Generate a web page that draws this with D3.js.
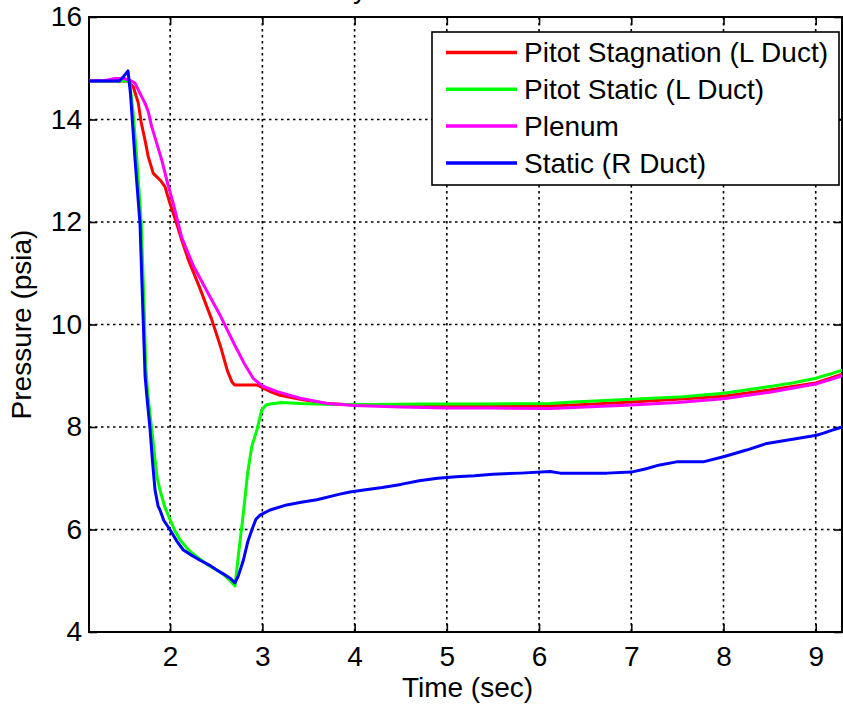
<!DOCTYPE html>
<html>
<head>
<meta charset="utf-8">
<script src="https://cdn.jsdelivr.net/npm/d3@7"></script>
<style>
  html, body { margin: 0; padding: 0; background: #fff; }
  svg { display: block; font-family: "Liberation Sans", Arial, sans-serif; }
</style>
</head>
<body>
<svg id="chart" width="843" height="706"></svg>
<script>
// Pressure traces, time in seconds, pressure in psia
const seriesNames = ["Pitot Stagnation (L Duct)", "Pitot Static (L Duct)", "Plenum", "Static (R Duct)"];
const seriesColors = ["#ff0000", "#00ff00", "#ff00ff", "#0000ff"];

const pitotStagnation = [
  [1.12,14.75],[1.54,14.75],[1.60,14.64],[1.655,14.32],[1.684,13.96],[1.727,13.6],[1.763,13.27],
  [1.817,12.95],[1.89,12.82],[1.944,12.69],[1.998,12.36],[2.07,11.97],[2.125,11.65],[2.2,11.25],
  [2.32,10.72],[2.45,10.1],[2.55,9.55],[2.62,9.1],[2.67,8.88],[2.70,8.82],[2.94,8.82],[3.01,8.76],
  [3.10,8.68],[3.19,8.62],[3.41,8.54],[3.70,8.46],[4.0,8.43],[4.5,8.41],[5.0,8.40],[5.5,8.40],
  [6.12,8.41],[6.5,8.44],[7.0,8.49],[7.5,8.54],[8.0,8.60],[8.5,8.72],[9.0,8.86],[9.29,9.03]
];
const pitotStatic = [
  [1.12,14.75],[1.56,14.75],[1.60,14.1],[1.64,13.2],[1.687,11.97],[1.72,10.2],[1.735,9.2],[1.755,8.7],
  [1.78,8.27],[1.81,7.8],[1.836,7.36],[1.86,7.0],[1.89,6.77],[1.94,6.45],[2.0,6.19],[2.05,5.98],
  [2.107,5.80],[2.2,5.6],[2.288,5.47],[2.4,5.32],[2.505,5.21],[2.58,5.12],[2.65,5.0],[2.703,4.90],
  [2.74,5.5],[2.794,6.32],[2.84,7.1],[2.885,7.62],[2.94,7.94],[2.993,8.33],[3.04,8.43],[3.083,8.45],
  [3.21,8.48],[3.41,8.46],[3.77,8.44],[4.2,8.44],[4.8,8.45],[5.4,8.45],[6.12,8.46],[6.37,8.49],
  [7.0,8.54],[7.56,8.59],[8.0,8.66],[8.43,8.77],[8.75,8.86],[9.0,8.95],[9.15,9.03],[9.29,9.11]
];
const plenum = [
  [1.12,14.75],[1.30,14.76],[1.40,14.8],[1.50,14.8],[1.57,14.76],[1.619,14.71],[1.673,14.51],
  [1.727,14.32],[1.763,14.15],[1.80,13.86],[1.854,13.54],[1.909,13.21],[1.963,12.82],[2.034,12.36],
  [2.125,11.7],[2.25,11.15],[2.40,10.65],[2.55,10.15],[2.70,9.6],[2.80,9.25],[2.90,8.95],[3.0,8.8],
  [3.16,8.69],[3.41,8.56],[3.70,8.46],[4.0,8.42],[4.5,8.39],[5.0,8.37],[5.5,8.37],[6.12,8.36],
  [6.5,8.39],[7.0,8.43],[7.5,8.48],[8.0,8.55],[8.5,8.68],[9.0,8.84],[9.29,9.0]
];
const staticRight = [
  [1.12,14.75],[1.45,14.75],[1.50,14.85],[1.543,14.95],[1.57,14.5],[1.62,13.2],[1.673,11.97],
  [1.70,10.5],[1.728,9.0],[1.755,8.45],[1.78,8.0],[1.81,7.3],[1.836,6.77],[1.87,6.45],[1.89,6.38],
  [1.93,6.18],[2.0,5.99],[2.07,5.78],[2.143,5.6],[2.23,5.5],[2.324,5.40],[2.42,5.31],[2.505,5.21],
  [2.58,5.13],[2.649,5.05],[2.703,4.96],[2.74,5.1],[2.794,5.40],[2.84,5.75],[2.885,5.99],[2.93,6.2],
  [2.975,6.28],[3.083,6.38],[3.264,6.48],[3.42,6.53],[3.59,6.58],[3.84,6.69],[3.95,6.73],[4.1,6.77],
  [4.3,6.82],[4.5,6.88],[4.7,6.95],[4.9,7.0],[5.1,7.03],[5.3,7.05],[5.5,7.08],[5.8,7.10],[6.12,7.13],
  [6.23,7.10],[6.735,7.10],[7.0,7.12],[7.15,7.18],[7.31,7.26],[7.49,7.32],[7.78,7.32],[8.0,7.42],
  [8.25,7.55],[8.47,7.68],[8.75,7.76],[9.01,7.84],[9.085,7.88],[9.18,7.94],[9.29,8.0]
];
const seriesData = [pitotStagnation, pitotStatic, plenum, staticRight];

const xTicks = [2, 3, 4, 5, 6, 7, 8, 9];
const yTicks = [4, 6, 8, 10, 12, 14, 16];
const xDomain = [1.12, 9.285];
const yDomain = [4, 16];

const plot = { left: 89, right: 842, top: 17, bottom: 632 };
const fontSize = 28;
const tickLen = 8;

const svg = d3.select("#chart");
const x = d3.scaleLinear().domain(xDomain).range([plot.left, plot.right]);
const y = d3.scaleLinear().domain(yDomain).range([plot.bottom, plot.top]);

svg.append("defs").append("clipPath").attr("id", "plotClip")
  .append("rect")
  .attr("x", plot.left).attr("y", plot.top)
  .attr("width", plot.right - plot.left).attr("height", plot.bottom - plot.top);

// Title sits above the visible page edge
svg.append("text")
  .attr("x", 367).attr("y", -2)
  .attr("text-anchor", "end")
  .attr("font-size", fontSize)
  .text("Pressure History");

// Dotted grid
const grid = svg.append("g")
  .attr("stroke", "#000").attr("stroke-width", 1.6)
  .attr("stroke-dasharray", "2.5,3.5");
grid.selectAll(".gx").data(xTicks).join("line")
  .attr("x1", d => x(d)).attr("x2", d => x(d))
  .attr("y1", plot.top).attr("y2", plot.bottom);
grid.selectAll(".gy").data(yTicks.filter(d => d > yDomain[0] && d < yDomain[1])).join("line")
  .attr("x1", plot.left).attr("x2", plot.right)
  .attr("y1", d => y(d)).attr("y2", d => y(d));

// Axes with inward ticks on all four sides
const axisBottom = svg.append("g")
  .attr("transform", `translate(0,${plot.bottom})`)
  .call(d3.axisBottom(x).tickValues(xTicks).tickSizeInner(-tickLen).tickSizeOuter(0).tickPadding(14));
const axisTop = svg.append("g")
  .attr("transform", `translate(0,${plot.top})`)
  .call(d3.axisTop(x).tickValues(xTicks).tickSizeInner(-tickLen).tickSizeOuter(0).tickFormat(""));
const axisLeft = svg.append("g")
  .attr("transform", `translate(${plot.left},0)`)
  .call(d3.axisLeft(y).tickValues(yTicks).tickSizeInner(-tickLen).tickSizeOuter(0).tickPadding(7));
const axisRight = svg.append("g")
  .attr("transform", `translate(${plot.right},0)`)
  .call(d3.axisRight(y).tickValues(yTicks).tickSizeInner(-tickLen).tickSizeOuter(0).tickFormat(""));

[axisBottom, axisTop, axisLeft, axisRight].forEach(g => {
  g.select(".domain").remove();
  g.selectAll(".tick line").attr("stroke", "#000").attr("stroke-width", 1.6);
  g.selectAll("text").attr("font-size", fontSize).attr("fill", "#000")
    .attr("font-family", "Liberation Sans, Arial, sans-serif");
});

// Box
svg.append("rect")
  .attr("x", plot.left).attr("y", plot.top)
  .attr("width", plot.right - plot.left).attr("height", plot.bottom - plot.top)
  .attr("fill", "none").attr("stroke", "#000").attr("stroke-width", 2);

// Traces
const line = d3.line().x(d => x(d[0])).y(d => y(d[1]));
svg.append("g").attr("clip-path", "url(#plotClip)")
  .selectAll("path").data(seriesData).join("path")
  .attr("d", line)
  .attr("fill", "none")
  .attr("stroke", (d, i) => seriesColors[i])
  .attr("stroke-width", 3)
  .attr("stroke-linejoin", "round");

// Axis labels
svg.append("text")
  .attr("x", (plot.left + plot.right) / 2 + 2).attr("y", 697)
  .attr("text-anchor", "middle").attr("font-size", fontSize)
  .text("Time (sec)");
svg.append("text")
  .attr("transform", `translate(31,${(plot.top + plot.bottom) / 2}) rotate(-90)`)
  .attr("text-anchor", "middle").attr("font-size", fontSize)
  .text("Pressure (psia)");

// Legend
const legend = svg.append("g");
legend.append("rect")
  .attr("x", 432).attr("y", 32).attr("width", 407).attr("height", 153)
  .attr("fill", "#fff").attr("stroke", "#000").attr("stroke-width", 1.6);
const rowY = i => 52.5 + i * 36.8;
const rows = legend.selectAll(".row").data(seriesNames).join("g");
rows.append("line")
  .attr("x1", 446).attr("x2", 517)
  .attr("y1", (d, i) => rowY(i)).attr("y2", (d, i) => rowY(i))
  .attr("stroke", (d, i) => seriesColors[i]).attr("stroke-width", 3.5);
rows.append("text")
  .attr("x", 524).attr("y", (d, i) => rowY(i))
  .attr("dy", "0.35em").attr("font-size", fontSize)
  .text(d => d);
</script>
</body>
</html>
